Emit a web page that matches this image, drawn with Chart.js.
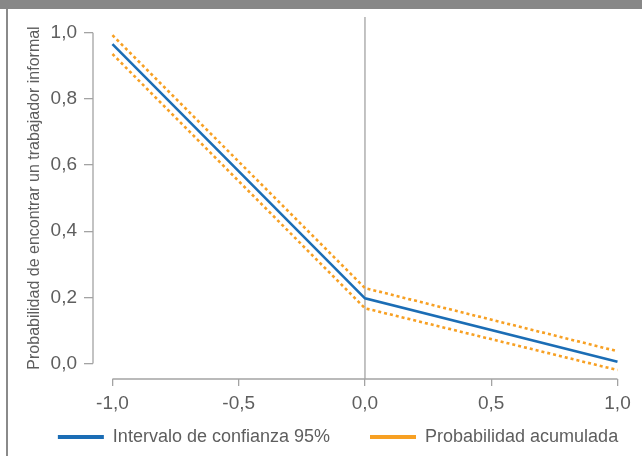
<!DOCTYPE html>
<html>
<head>
<meta charset="utf-8">
<script src="https://cdn.jsdelivr.net/npm/chart.js@4"></script>
<style>
  html, body { margin: 0; padding: 0; background: #ffffff; }
  #wrap { position: relative; width: 642px; height: 456px; overflow: hidden; background: #ffffff; }
  #topbar { position: absolute; left: 0; top: 0; width: 642px; height: 9px; background: #878787; }
  #leftbar { position: absolute; left: 6px; top: 9px; width: 2px; height: 447px; background: #8a8a8a; }
  canvas { position: absolute; left: 0; top: 0; }
</style>
</head>
<body>
<div id="wrap">
  <canvas id="c" width="642" height="456"></canvas>
  <div id="topbar"></div>
  <div id="leftbar"></div>
</div>
<script>
// ---- data ----
const xValues = [-1, 0, 1];
const probability = [0.966, 0.197, 0.005];
const upperBound = [0.993, 0.228, 0.037];
const lowerBound = [0.936, 0.167, -0.020];

const xTicks = [-1, -0.5, 0, 0.5, 1];
const yTicks = [0, 0.2, 0.4, 0.6, 0.8, 1.0];

const seriesLabels = ['Intervalo de confianza 95%', 'Probabilidad acumulada'];
const yTitle = 'Probabilidad de encontrar un trabajador informal';

const BLUE = '#1b6db5';
const ORANGE = '#f7a023';
const AXIS = '#a3a3a3';
const TEXT = '#5e5e5e';
const FONT = "'Liberation Sans', Arial, sans-serif";
const LEGEND_PAD = 40;

const toPoints = (ys) => xValues.map((x, i) => ({ x: x, y: ys[i] }));
const fmt = (v) => (Math.round(v * 10) / 10).toFixed(1).replace('.', ',');

const axisPlugin = {
  id: 'offsetAxes',
  beforeLayout(chart) {
    const lg = chart.legend;
    if (lg && !lg._patchedFit) {
      const orig = lg.fit.bind(lg);
      lg.fit = function () { orig(); this.height = 36; };
      lg._patchedFit = true;
    }
  },
  afterLayout(chart) {
    const lg = chart.legend;
    if (lg) {
      lg.left += 17; lg.right += 17;
      lg.top = 437 - LEGEND_PAD - 9;
      lg.bottom = chart.height;
      lg.height = lg.bottom - lg.top;
    }
  },
  beforeDatasetsDraw(chart) {
    const { ctx, chartArea, scales } = chart;
    const xs = scales.x, ys = scales.y;
    ctx.save();
    ctx.strokeStyle = AXIS;
    ctx.lineWidth = 1.3;
    ctx.beginPath();
    ctx.moveTo(chartArea.left, ys.getPixelForValue(yTicks[0]));
    ctx.lineTo(chartArea.left, ys.getPixelForValue(yTicks[yTicks.length - 1]));
    ctx.stroke();
    ctx.beginPath();
    ctx.moveTo(xs.getPixelForValue(xTicks[0]), chartArea.bottom);
    ctx.lineTo(xs.getPixelForValue(xTicks[xTicks.length - 1]), chartArea.bottom);
    ctx.stroke();
    ctx.beginPath();
    ctx.moveTo(xs.getPixelForValue(0), chartArea.top);
    ctx.lineTo(xs.getPixelForValue(0), chartArea.bottom);
    ctx.stroke();
    ctx.restore();
  }
};

new Chart(document.getElementById('c'), {
  type: 'line',
  data: {
    datasets: [
      { label: seriesLabels[0], data: toPoints(probability), borderColor: BLUE, backgroundColor: BLUE,
        borderWidth: 2.6, pointRadius: 0, tension: 0, clip: false },
      { label: seriesLabels[1], data: toPoints(upperBound), borderColor: ORANGE, backgroundColor: ORANGE,
        borderWidth: 2.6, borderDash: [3, 3], pointRadius: 0, tension: 0, clip: false },
      { label: '_lower', data: toPoints(lowerBound), borderColor: ORANGE, backgroundColor: ORANGE,
        borderWidth: 2.6, borderDash: [3, 3], pointRadius: 0, tension: 0, clip: false }
    ]
  },
  options: {
    responsive: false,
    animation: false,
    devicePixelRatio: 1,
    layout: { padding: { top: 17, left: 0, right: 0, bottom: 0 } },
    plugins: {
      tooltip: { enabled: false },
      legend: {
        position: 'bottom',
        labels: {
          color: TEXT,
          font: { family: FONT, size: 18 },
          boxWidth: 46,
          boxHeight: 4,
          padding: LEGEND_PAD,
          filter: (item) => item.text !== '_lower',
          generateLabels: (chart) => chart.data.datasets.map((ds, i) => ({
            text: ds.label, fillStyle: ds.borderColor, strokeStyle: ds.borderColor,
            lineWidth: 0, hidden: false, datasetIndex: i, fontColor: TEXT
          }))
        }
      }
    },
    scales: {
      x: {
        type: 'linear',
        min: -1.077,
        max: 1.002,
        afterBuildTicks: (s) => { s.ticks = xTicks.map(v => ({ value: v })); },
        afterFit: (s) => { s.height = 41; s.paddingLeft = 0; s.paddingRight = 24; },
        border: { display: false },
        grid: { display: true, drawOnChartArea: false, drawTicks: true, tickLength: 7, color: AXIS, lineWidth: 1.3 },
        ticks: { color: TEXT, font: { family: FONT, size: 19 }, padding: 6, maxRotation: 0,
                 callback: (v) => fmt(v) }
      },
      y: {
        type: 'linear',
        min: -0.047,
        max: 1.048,
        afterBuildTicks: (s) => { s.ticks = yTicks.map(v => ({ value: v })); },
        afterFit: (s) => { s.width = 93; s.paddingTop = 0; s.paddingBottom = 0; },
        border: { display: false },
        grid: { display: true, drawOnChartArea: false, drawTicks: true, tickLength: 9, color: AXIS, lineWidth: 1.3 },
        ticks: { color: TEXT, font: { family: FONT, size: 19 }, padding: 7,
                 callback: (v) => fmt(v) },
        title: { display: true, text: yTitle, color: TEXT, font: { family: FONT, size: 16 },
                 padding: { top: 25, bottom: 0 } }
      }
    }
  },
  plugins: [axisPlugin]
});
</script>
</body>
</html>
